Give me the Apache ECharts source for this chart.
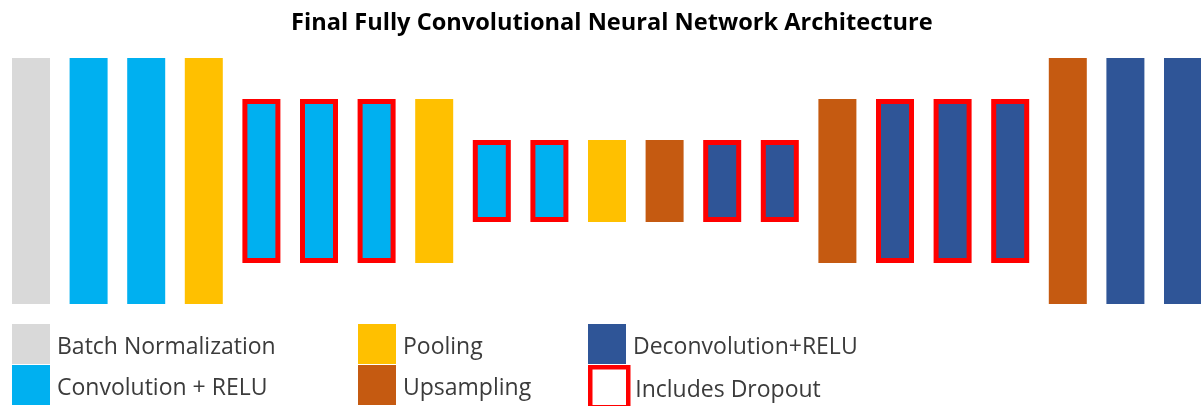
<!DOCTYPE html>
<html>
<head>
<meta charset="utf-8">
<script src="https://cdn.jsdelivr.net/npm/echarts@6/dist/echarts.min.js"></script>
<style>
    html, body { margin: 0; padding: 0; background: #fff; }
    #chart { width: 1201px; height: 406px; }
</style>
</head>
<body>
<div id="chart"></div>
<script>
// layer type of each block, left to right
var layers = [
    'Batch Normalization', 'Convolution + RELU', 'Convolution + RELU', 'Pooling',
    'Convolution + RELU', 'Convolution + RELU', 'Convolution + RELU', 'Pooling',
    'Convolution + RELU', 'Convolution + RELU', 'Pooling', 'Upsampling',
    'Deconvolution+RELU', 'Deconvolution+RELU', 'Upsampling',
    'Deconvolution+RELU', 'Deconvolution+RELU', 'Deconvolution+RELU',
    'Upsampling', 'Deconvolution+RELU', 'Deconvolution+RELU'
];
// relative block height
var sizes = [3, 3, 3, 3, 2, 2, 2, 2, 1, 1, 1, 1, 1, 1, 2, 2, 2, 2, 3, 3, 3];
// 1 = block includes dropout
var dropout = [0, 0, 0, 0, 1, 1, 1, 0, 1, 1, 0, 0, 1, 1, 0, 1, 1, 1, 0, 0, 0];

var types = ['Batch Normalization', 'Convolution + RELU', 'Pooling', 'Upsampling', 'Deconvolution+RELU'];
var colors = {
    'Batch Normalization': '#d9d9d9',
    'Convolution + RELU': '#00b0f0',
    'Pooling': '#ffc000',
    'Upsampling': '#c55a11',
    'Deconvolution+RELU': '#2f5597'
};
var maxSize = 3;

var categories = layers.map(function (l, i) { return 'L' + (i + 1); });

// transparent offset so every block is centred vertically
var series = [{
    name: 'offset',
    type: 'bar',
    stack: 'net',
    barWidth: 38,
    clip: false,
    silent: true,
    itemStyle: { color: 'transparent' },
    data: sizes.map(function (s) { return (maxSize - s) / 2; })
}];

types.forEach(function (t) {
    series.push({
        name: t,
        type: 'bar',
        stack: 'net',
        barWidth: 38,
        clip: false,
        itemStyle: { color: colors[t] },
        emphasis: { disabled: true },
        data: layers.map(function (l, i) {
            if (l !== t) return '-';
            if (dropout[i]) {
                return { value: sizes[i], itemStyle: { borderColor: '#ff0000', borderWidth: 5 } };
            }
            return sizes[i];
        })
    });
});

// legend-only entry
series.push({
    name: 'Includes Dropout',
    type: 'bar',
    stack: 'net',
    itemStyle: { color: '#ffffff', borderColor: '#ff0000', borderWidth: 4.5 },
    data: []
});

function legendItem(item, left, top) {
    return {
        left: left,
        top: top,
        padding: 0,
        itemWidth: 38,
        itemHeight: 40,
        icon: 'rect',
        selectedMode: false,
        formatter: '{t|{name}}',
        textStyle: {
            rich: {
                t: { fontFamily: 'Open Sans', fontSize: 23, color: '#3b3b3b', padding: [7, 0, 0, 2] }
            }
        },
        data: [item]
    };
}

var chart = echarts.init(document.getElementById('chart'));
var option = {
    animation: false,
    title: {
        text: 'Final Fully Convolutional Neural Network Architecture',
        left: 286,
        top: 6,
        textStyle: { fontFamily: 'Open Sans', fontSize: 23.6, fontWeight: 'bold', color: '#000' }
    },
    grid: {
        left: 31,
        right: 18,
        top: 58,
        height: 246
    },
    xAxis: {
        type: 'category',
        data: categories,
        boundaryGap: false,
        show: false
    },
    yAxis: {
        type: 'value',
        min: 0,
        max: maxSize,
        show: false
    },
    legend: [
        legendItem('Batch Normalization', 12, 324),
        legendItem('Convolution + RELU', 12, 365),
        legendItem('Pooling', 358, 324),
        legendItem('Upsampling', 358, 365),
        legendItem('Deconvolution+RELU', 588, 324),
        legendItem({
            name: 'Includes Dropout',
            itemStyle: { color: '#ffffff', borderColor: '#ff0000', borderWidth: 4.5 }
        }, 588, 365)
    ],
    series: series
};
chart.setOption(option);
window.addEventListener('resize', function () {
    chart.resize();
});
</script>
</body>
</html>
